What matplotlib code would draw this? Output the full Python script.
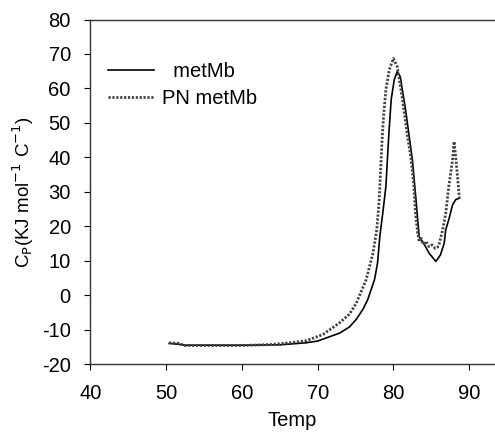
import numpy as np
import matplotlib
matplotlib.use("Agg")
import matplotlib.pyplot as plt

# metMb (solid line)
temp_met = [50.4, 51.5, 52.5, 55, 60, 65, 68.5, 70, 72.9, 74.2, 75.1, 76.0, 76.6, 77.5,
            77.9, 78.2, 78.6, 79.0, 79.4, 79.7, 80.1, 80.5, 80.9, 81.6, 82.2, 82.5, 82.9,
            83.2, 83.4, 84.1, 84.7, 85.6, 86.2, 86.7, 86.9, 87.3, 87.8, 88.2, 88.7]
cp_met = [-14.0, -14.2, -14.5, -14.5, -14.5, -14.4, -13.8, -13.3, -11.0, -9.2, -7.0, -4.0,
          -1.3, 4.5, 9.3, 17.0, 24.0, 31.5, 47.0, 56.7, 62.5, 64.9, 63.4, 53.8, 44.1, 39.3,
          29.6, 21.9, 17.0, 14.6, 12.2, 9.8, 11.7, 15.1, 19.0, 21.9, 26.2, 27.7, 28.2]

# PN metMb (dotted line)
temp_pn = [50.4, 51.5, 52.5, 55, 60, 64, 66.3, 68.5, 70.7, 72.9, 74.2, 75.1, 76.4, 77.3,
           77.8, 78.1, 78.3, 78.5, 78.7, 79.0, 79.45, 80.0, 80.5, 81.2, 81.8, 82.3, 82.7,
           82.9, 83.2, 83.4, 83.6, 83.9, 84.3, 84.7, 85.1, 85.5, 85.8, 86.0, 86.5, 86.9,
           87.3, 87.8, 88.0, 88.3, 88.7]
cp_pn = [-13.8, -13.9, -14.6, -14.6, -14.6, -14.3, -13.8, -13.2, -11.4, -8.0, -5.5, -2.3,
         4.5, 12.2, 19.0, 27.0, 36.0, 45.0, 52.0, 59.6, 65.4, 68.7, 66.3, 56.7, 47.0, 40.0,
         31.5, 23.8, 18.0, 15.5, 16.8, 14.8, 15.6, 14.1, 14.6, 13.6, 13.9, 14.6, 19.0, 23.8,
         31.5, 39.3, 44.6, 38.3, 28.2]

xticks = [40, 50, 60, 70, 80, 90]
yticks = [-20, -10, 0, 10, 20, 30, 40, 50, 60, 70, 80]

plt.rcParams['font.family'] = ['Liberation Sans', 'DejaVu Sans']
plt.rcParams['axes.unicode_minus'] = False

fig = plt.figure(figsize=(4.95, 4.34), dpi=100)
ax = fig.add_axes([0.1824, 0.161, 0.8176, 0.794])

ax.plot(temp_met, cp_met, color='black', lw=1.2, label='  metMb')
ax.plot(temp_pn, cp_pn, color='#444444', lw=2.0, linestyle=(0, (0.8, 0.6)),
        label='PN metMb')

ax.set_xlim(40, 93.4)
ax.set_ylim(-20, 80)
ax.set_xticks(xticks)
ax.set_yticks(yticks)
ax.tick_params(labelsize=14.5, direction='out', length=4, width=0.8)
ax.tick_params(axis='x', pad=10)
ax.tick_params(axis='y', pad=10)
ax.spines['right'].set_visible(False)
for s in ['top', 'bottom', 'left']:
    ax.spines[s].set_linewidth(1.0)
    ax.spines[s].set_color('#333333')

ax.set_xlabel('Temp', fontsize=14.5, labelpad=6)
ax.set_ylabel(r'C$_\mathrm{P}$(KJ mol$^{-1}$ C$^{-1}$)', fontsize=13.5, labelpad=4)

ax.legend(loc='upper left', bbox_to_anchor=(0.025, 0.90), frameon=False, fontsize=14.5,
          handlelength=2.25, handletextpad=0.4, labelspacing=0.4, borderaxespad=0)

fig.savefig('out.png', dpi=100)
